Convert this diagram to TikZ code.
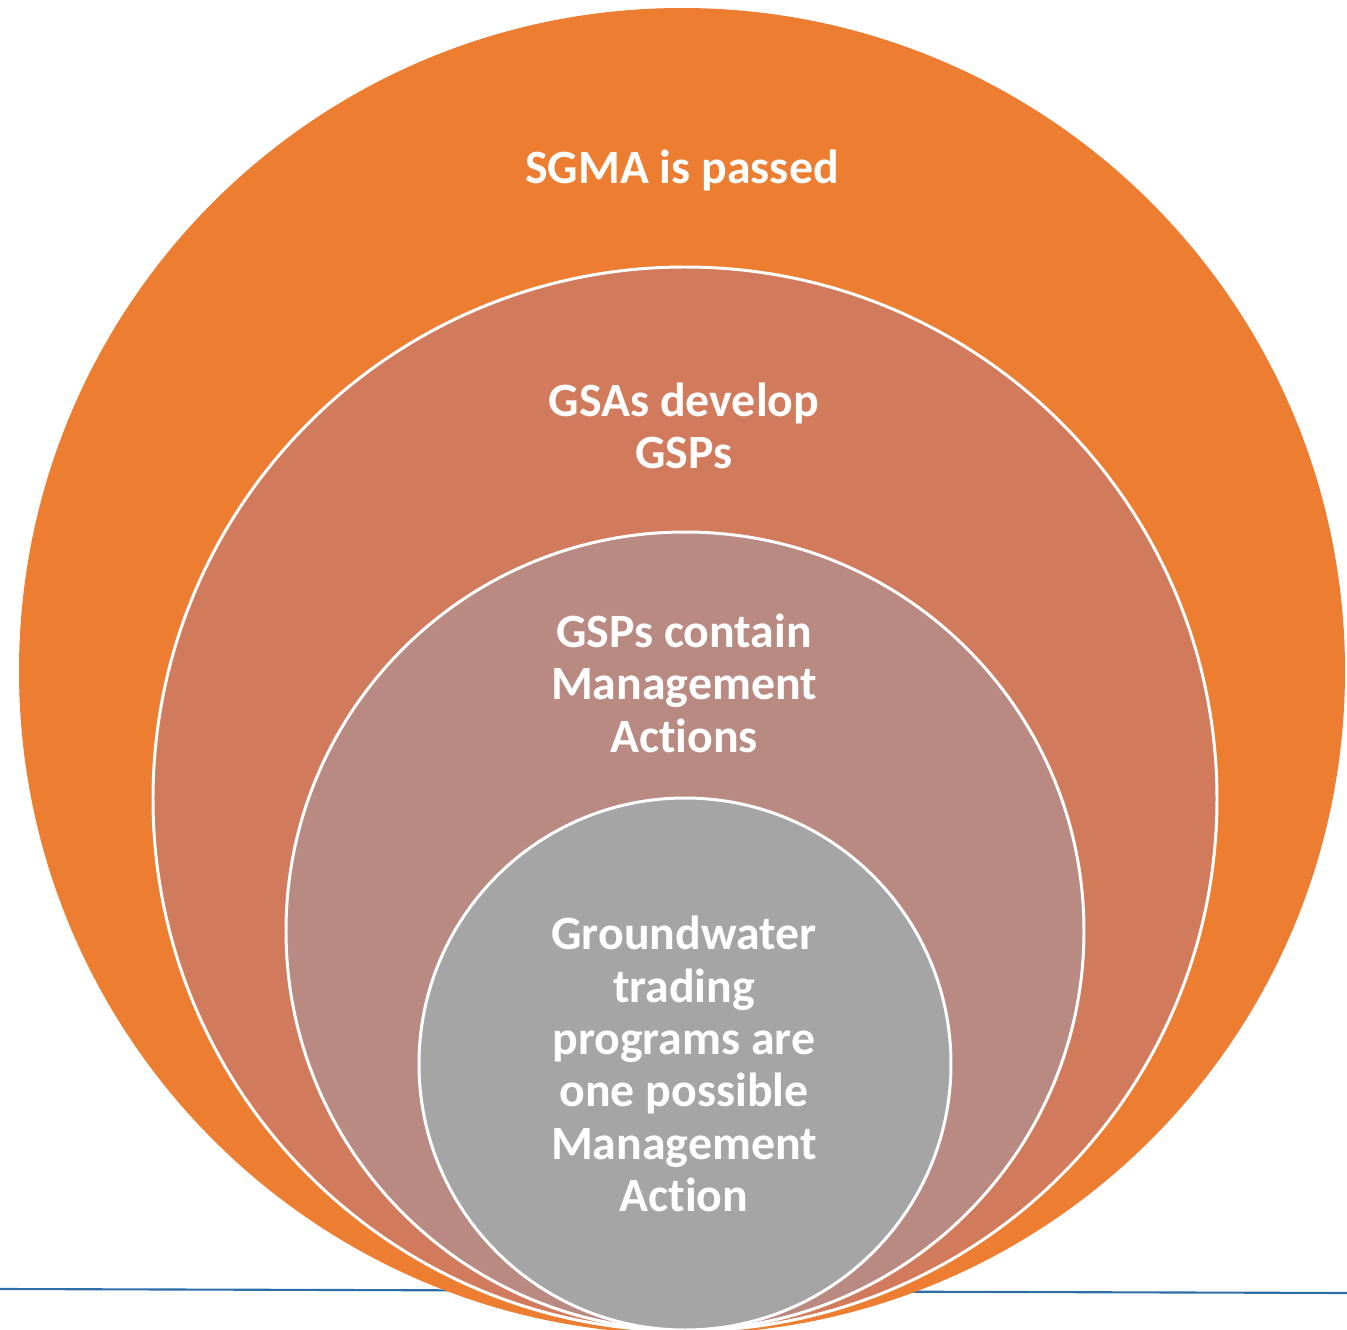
\documentclass[tikz,border=0pt]{standalone}
\usepackage{fontspec}
\setmainfont[Ligatures=NoCommon]{Carlito}
\usepackage{tikz}

\definecolor{sgmaorange}{HTML}{ED7D31}
\definecolor{gsabrown}{HTML}{D27A5C}
\definecolor{gsprose}{HTML}{B98A82}
\definecolor{tradegray}{HTML}{A5A5A5}
\definecolor{baseblue}{HTML}{2E6DA8}

\tikzset{
  ring/.style={draw=white, line width=0.85pt},
  label/.style={text=white, align=center, inner sep=0pt,
    font=\fontsize{13.6pt}{14.9pt}\selectfont\bfseries}
}

\begin{document}
\begin{tikzpicture}[x=0.01cm,y=-0.01cm]
	  \useasboundingbox (0,0) rectangle (1347,1330);   % page frame

	  \coordinate (lineL) at (0,1289);
	  \coordinate (lineR) at (1347,1293);
	  \draw[baseblue, line width=0.6pt] (lineL) -- (lineR);   % base line behind circles

	  % nested circles, all touching the bottom
	  \fill[sgmaorange] (682,671) circle (663);
	  \filldraw[ring, fill=gsabrown] (685,799) circle (532);
	  \filldraw[ring, fill=gsprose] (685,931) circle (399);
	  \filldraw[ring, fill=tradegray] (685,1064) circle (266);

	  % texts
	  \node[label] (sgma) at (682,170) {SGMA is passed};
	  \node[label] (gsas) at (684,426) {GSAs develop\\GSPs};
	  \node[label] (gsps) at (684,683) {GSPs contain\\Management\\Actions};
	  \node[label] (trade) at (684,1064) {Groundwater\\trading\\programs are\\one possible\\Management\\Action};
	
	\end{tikzpicture}
\end{document}
